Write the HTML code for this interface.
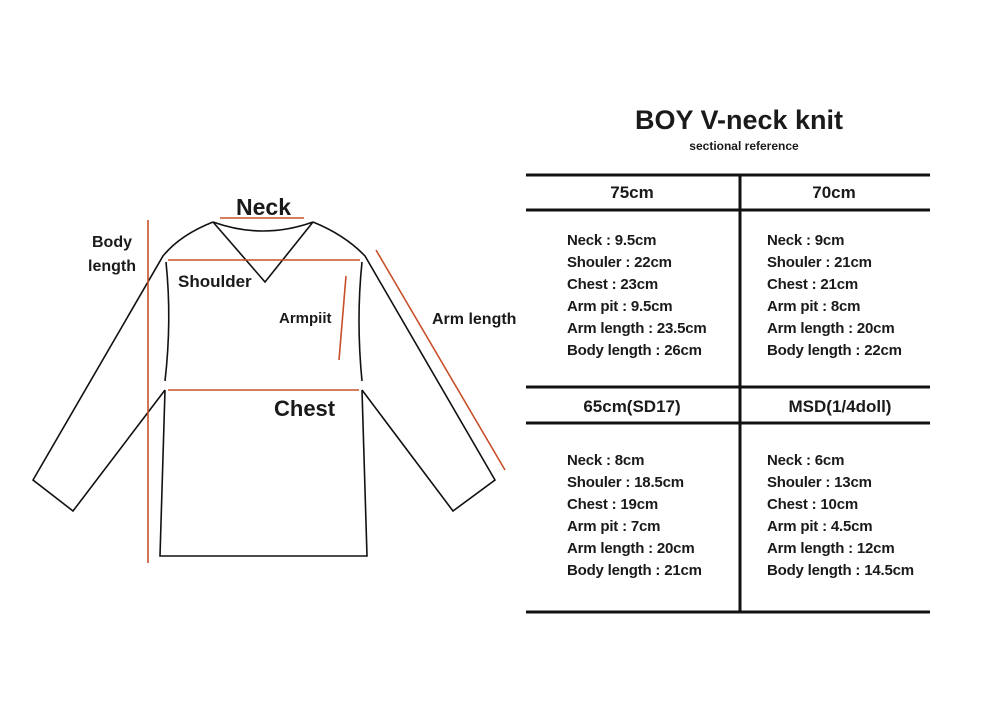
<!DOCTYPE html>
<html><head><meta charset="utf-8"><style>
html,body{margin:0;padding:0;background:#fff;width:1000px;height:715px;overflow:hidden}
svg text{font-family:"Liberation Sans",sans-serif;fill:#1a1a1a}
</style></head><body>
<svg width="1000" height="715" viewBox="0 0 1000 715" xmlns="http://www.w3.org/2000/svg">
<g fill="none" stroke="#111" stroke-width="1.6" stroke-linejoin="miter">
<path d="M213,222 Q263,240 313,222"/>
<path d="M213,222 L265,282 L313,222"/>
<path d="M213,222 Q180,235 163,256 L33,480 L73,511 L165,390"/>
<path d="M313,222 Q345,235 365,256 L495,480 L453,511 L362,390"/>
<path d="M166,262 Q172,320 165,381"/>
<path d="M362,262 Q356,320 362,381"/>
<path d="M165,390 L160,556 L367,556 L362,390"/>
</g>
<g stroke="#c8502a" stroke-width="1.6">
<line x1="148" y1="220" x2="148" y2="563"/>
<line x1="220" y1="218" x2="304" y2="218"/>
<line x1="168" y1="260" x2="360" y2="260"/>
<line x1="346" y1="276" x2="339" y2="360"/>
<line x1="168" y1="390" x2="359" y2="390"/>
<line x1="376" y1="250" x2="505" y2="470"/>
</g>
<g font-weight="bold">
<text x="236" y="215" font-size="23">Neck</text>
<text x="92" y="247" font-size="16">Body</text>
<text x="88" y="271" font-size="16">length</text>
<text x="178" y="287" font-size="17">Shoulder</text>
<text x="279" y="323" font-size="15">Armpiit</text>
<text x="432" y="324" font-size="16">Arm length</text>
<text x="274" y="416" font-size="22">Chest</text>
</g>
<text x="739" y="129" font-size="27" font-weight="bold" text-anchor="middle">BOY V-neck knit</text>
<text x="744" y="150" font-size="12" font-weight="bold" text-anchor="middle">sectional reference</text>
<g stroke="#111" stroke-width="3">
<line x1="526" y1="175" x2="930" y2="175"/>
<line x1="526" y1="210" x2="930" y2="210"/>
<line x1="526" y1="387" x2="930" y2="387"/>
<line x1="526" y1="423" x2="930" y2="423"/>
<line x1="526" y1="612" x2="930" y2="612"/>
<line x1="740" y1="175" x2="740" y2="612"/>
</g>
<g font-size="17" font-weight="bold" text-anchor="middle">
<text x="632" y="198">75cm</text>
<text x="834" y="198">70cm</text>
<text x="632" y="412">65cm(SD17)</text>
<text x="840" y="412">MSD(1/4doll)</text>
</g>
<g font-size="15" font-weight="bold" letter-spacing="-0.2">
<text x="567" y="245">Neck : 9.5cm</text>
<text x="567" y="267">Shouler : 22cm</text>
<text x="567" y="289">Chest : 23cm</text>
<text x="567" y="311">Arm pit : 9.5cm</text>
<text x="567" y="333">Arm length : 23.5cm</text>
<text x="567" y="355">Body length : 26cm</text>
<text x="767" y="245">Neck : 9cm</text>
<text x="767" y="267">Shouler : 21cm</text>
<text x="767" y="289">Chest : 21cm</text>
<text x="767" y="311">Arm pit : 8cm</text>
<text x="767" y="333">Arm length : 20cm</text>
<text x="767" y="355">Body length : 22cm</text>
<text x="567" y="465">Neck : 8cm</text>
<text x="567" y="487">Shouler : 18.5cm</text>
<text x="567" y="509">Chest : 19cm</text>
<text x="567" y="531">Arm pit : 7cm</text>
<text x="567" y="553">Arm length : 20cm</text>
<text x="567" y="575">Body length : 21cm</text>
<text x="767" y="465">Neck : 6cm</text>
<text x="767" y="487">Shouler : 13cm</text>
<text x="767" y="509">Chest : 10cm</text>
<text x="767" y="531">Arm pit : 4.5cm</text>
<text x="767" y="553">Arm length : 12cm</text>
<text x="767" y="575">Body length : 14.5cm</text>
</g>
</svg>
</body></html>
